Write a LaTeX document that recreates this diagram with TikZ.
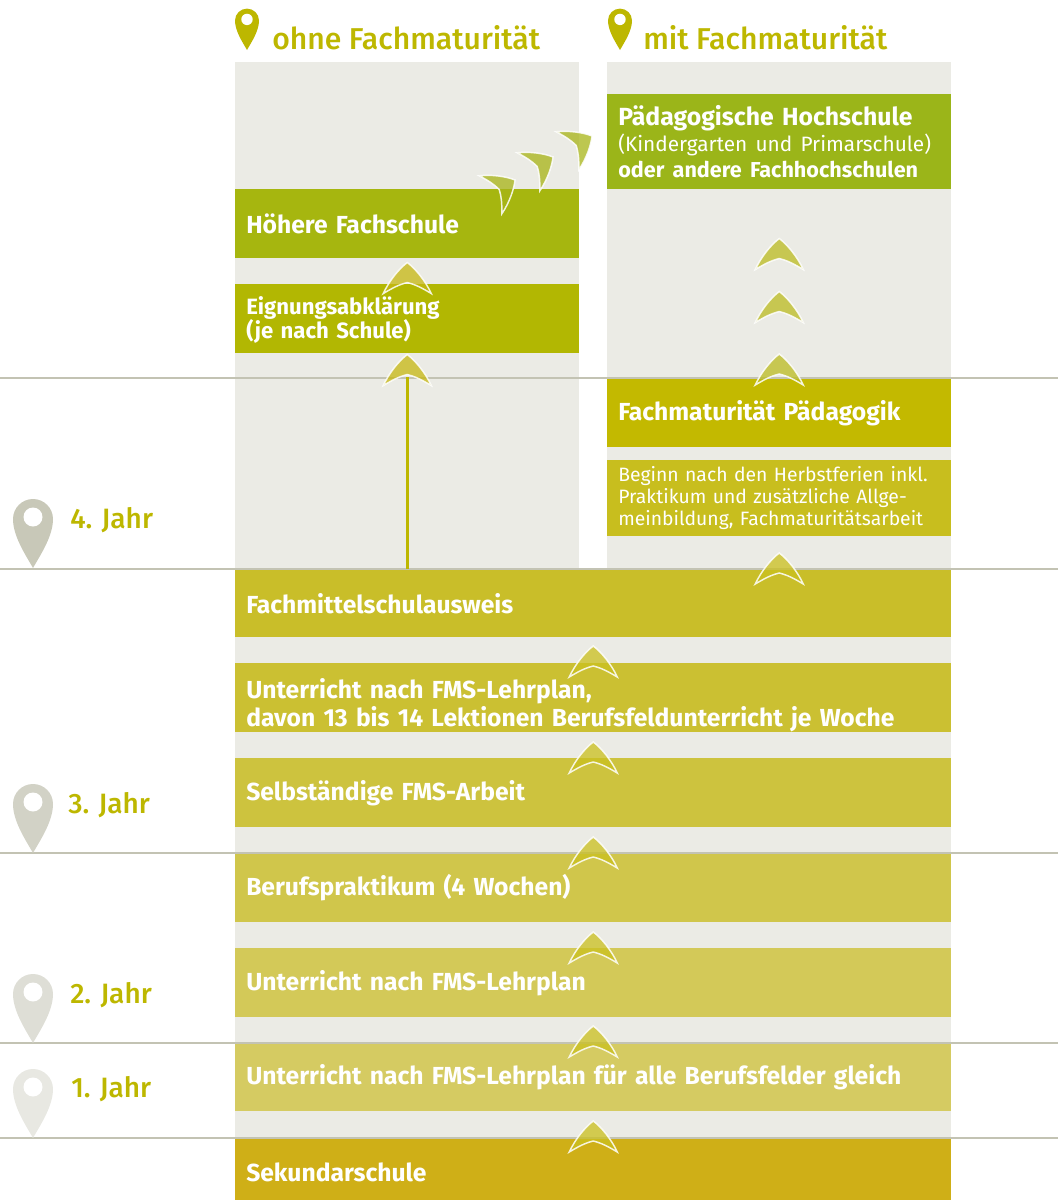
\documentclass[tikz,border=0pt]{standalone}
\usepackage{fontspec}
\setmainfont{Fira Sans}
\newfontfamily\medfont{Fira Sans Medium}
\definecolor{colbg}{HTML}{EBEBE5}
\definecolor{linec}{HTML}{C3C3B3}
\definecolor{headc}{HTML}{BDB700}
\definecolor{cPH}{HTML}{9BB519}
\definecolor{cHF}{HTML}{A6B60F}
\definecolor{cEA}{HTML}{B2B702}
\definecolor{cFP}{HTML}{C3B900}
\definecolor{cBG}{HTML}{C8BE1E}
\definecolor{cFA}{HTML}{C9BE29}
\definecolor{cUa}{HTML}{CBC032}
\definecolor{cSF}{HTML}{CDC33E}
\definecolor{cBP}{HTML}{D0C64B}
\definecolor{cUb}{HTML}{D3C958}
\definecolor{cUc}{HTML}{D5CB62}
\definecolor{cSK}{HTML}{CFAF17}
\definecolor{chM}{HTML}{CAC01E}
\definecolor{chR}{HTML}{BCBB20}
\definecolor{chL}{HTML}{C6B811}
\definecolor{chD}{HTML}{A7B416}
\definecolor{pinA}{HTML}{C8C8B8}
\definecolor{pinB}{HTML}{D2D2C6}
\definecolor{pinC}{HTML}{DEDED6}
\definecolor{pinD}{HTML}{E8E8E2}
\begin{document}
\begin{tikzpicture}[x=0.75pt,y=-0.75pt,
  bar/.style={anchor=north west, inner xsep=8.25pt, inner ysep=0pt, text=white, align=left,
    font=\fontsize{18.5}{21}\selectfont\bfseries},
  narrow/.style={minimum width=258pt, text width=241.5pt},
  wide/.style={minimum width=537pt, text width=520.5pt},
  hline/.style={draw=linec, line width=1.5pt},
  vline/.style={draw=headc, line width=2.25pt},
  chevst/.style={fill opacity=0.75, draw=white, draw opacity=0.85, line width=1.1pt},
  head/.style={anchor=base west, inner sep=0pt, text=headc, font=\fontsize{22.6}{26}\medfont},
  year/.style={anchor=base west, inner sep=0pt, text=headc, font=\fontsize{21}{24}\medfont},
  chev/.pic={\path[pic actions] (0,0) .. controls (8,6) and (18,18) .. (24,31)
      .. controls (14,25) and (8,22) .. (0,20) .. controls (-8,22) and (-14,25) .. (-24,31)
      .. controls (-18,18) and (-8,6) .. (0,0) -- cycle;},
  pin/.pic={\path[pic actions] (0,0) .. controls (-8,-14) and (-20,-32) .. (-20,-49)
      .. controls (-20,-60.05) and (-11.05,-69) .. (0,-69)
      .. controls (11.05,-69) and (20,-60.05) .. (20,-49)
      .. controls (20,-32) and (8,-14) .. (0,0) -- cycle;
      \fill[white] (0,-51) circle[radius=9.5];}
]
\useasboundingbox (0,0) rectangle (1058,1200);
% backgrounds
\fill[colbg] (235,62) rectangle (579,570);
\fill[colbg] (607,62) rectangle (951,570);
\fill[colbg] (235,570) rectangle (951,1200);
% bars
\node[bar, narrow, fill=cPH, minimum height=71.25pt, font=\fontsize{18.6}{19.5}\selectfont\bfseries] (ph) at (607,94)
  {Pädagogische Hochschule\\{\fontsize{15.6}{19.5}\selectfont\mdseries (Kindergarten und Primarschule)}\\{\fontsize{16.2}{19.5}\selectfont oder andere Fachhochschulen}};
\node[bar, narrow, fill=cHF, minimum height=51.75pt] (hf) at (235,189) {Höhere Fachschule};
\node[bar, narrow, fill=cEA, minimum height=51.75pt, text height=0pt, text depth=5.85pt,
  font=\fontsize{16.6}{18}\selectfont\bfseries] (ea) at (235,284) {Eignungsabklärung\\(je nach Schule)};
\node[bar, narrow, fill=cFP, minimum height=51pt] (fp) at (607,379) {Fachmaturität Pädagogik};
\node[bar, narrow, fill=cBG, minimum height=57pt, font=\fontsize{14.5}{16.5}\selectfont] (bg) at (607,460)
  {Beginn nach den Herbstferien inkl.\\Praktikum und zusätzliche Allge-\\meinbildung, Fachmaturitätsarbeit};
\node[bar, wide, fill=cFA, minimum height=51pt] (fa) at (235,569) {Fachmittelschulausweis};
\node[bar, wide, fill=cUa, minimum height=51.75pt, text height=1.5pt, text depth=0pt] (ua) at (235,663)
  {Unterricht nach FMS-Lehrplan,\\davon 13 bis 14 Lektionen Berufsfeldunterricht je Woche};
\node[bar, wide, fill=cSF, minimum height=51.75pt] (sf) at (235,758) {Selbständige FMS-Arbeit};
\node[bar, wide, fill=cBP, minimum height=51.75pt] (bp) at (235,853) {Berufspraktikum (4 Wochen)};
\node[bar, wide, fill=cUb, minimum height=51.75pt] (ub) at (235,948) {Unterricht nach FMS-Lehrplan};
\node[bar, wide, fill=cUc, minimum height=51pt] (uc) at (235,1043) {Unterricht nach FMS-Lehrplan für alle Berufsfelder gleich};
\node[bar, wide, fill=cSK, minimum height=51.75pt] (sk) at (235,1138) {Sekundarschule};
% year lines
\foreach \yy in {378,569,853,1043,1138} \draw[hline] (0,\yy) -- (1058,\yy);
% vertical connector
\draw[vline] (fa.north -| ea.south) -- ++(0,-192);
% chevrons main
\pic[chevst, fill=chM] at ([yshift=12.75pt]ua.north) {chev};
\pic[chevst, fill=chM] at ([yshift=12pt]sf.north) {chev};
\pic[chevst, fill=chM] at ([yshift=12pt]bp.north) {chev};
\pic[chevst, fill=chM] at ([yshift=12pt]ub.north) {chev};
\pic[chevst, fill=chM] at ([yshift=12.75pt]uc.north) {chev};
\pic[chevst, fill=chM] at ([yshift=12.75pt]sk.north) {chev};
% chevrons right column
\pic[chevst, fill=chR] at ([yshift=-36.75pt]ph.south) {chev};
\pic[chevst, fill=chR] at ([yshift=-76.5pt]ph.south) {chev};
\pic[chevst, fill=chR] at ([yshift=18.75pt]fp.north) {chev};
\pic[chevst, fill=chM] at ([yshift=12pt]fa.north -| bg.south) {chev};
% chevrons left column
\pic[chevst, fill=chL] at ([yshift=-3pt]hf.south) {chev};
\pic[chevst, fill=chL] at ([yshift=-0.75pt]ea.south) {chev};
% diagonal chevrons
\pic[chevst, fill=chD, rotate=-59, scale=0.92] at (515,180) {chev};
\pic[chevst, fill=chD, rotate=-59, scale=0.92] at (553,157) {chev};
\pic[chevst, fill=chD, rotate=-59, scale=0.92] at (592,136) {chev};
% headers
\pic[fill=headc, scale=0.6] at (247,50) {pin};
\pic[fill=headc, scale=0.6] at (620,50) {pin};
\node[head] (h1) at (272,49) {ohne Fachmaturität};
\node[head] (h2) at (643,49) {mit Fachmaturität};
% year pins
\pic[fill=pinA] at (33,568) {pin};
\pic[fill=pinB] at (33,853) {pin};
\pic[fill=pinC] at (33,1043) {pin};
\pic[fill=pinD] at (33,1138) {pin};
\node[year] (j4) at (70,528) {4. Jahr};
\node[year] (j3) at (68,813) {3. Jahr};
\node[year] (j2) at (70,1003) {2. Jahr};
\node[year] (j1) at (71,1097) {1. Jahr};
\end{tikzpicture}
\end{document}
